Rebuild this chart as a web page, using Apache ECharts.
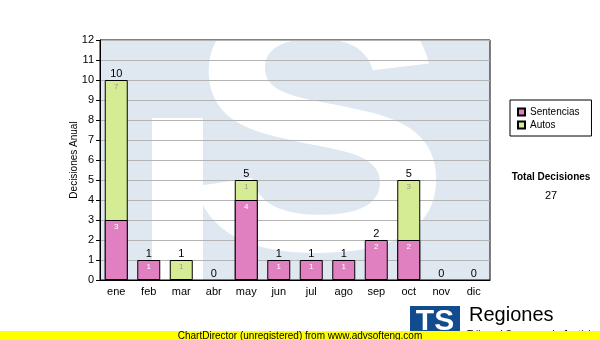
<!DOCTYPE html>
<html>
<head>
<meta charset="utf-8">
<script src="https://cdn.jsdelivr.net/npm/echarts@6/dist/echarts.min.js"></script>
<style>html,body{margin:0;padding:0;background:#fff}#c{width:600px;height:340px}</style>
</head>
<body>
<div id="c"></div>
<script>
const categories = ['ene','feb','mar','abr','may','jun','jul','ago','sep','oct','nov','dic'];
const sentencias = [3,1,0,0,4,1,1,1,2,2,0,0];
const autos = [7,0,1,0,1,0,0,0,0,3,0,0];
const yMin = 0, yMax = 12, yStep = 1;
const totals = categories.map((c,i) => sentencias[i] + autos[i]);
const grandTotal = totals.reduce((a,b) => a + b, 0);
// Autos drawn as the full stack height behind Sentencias (so shared edges are single lines)
const autosTop = categories.map((c,i) => autos[i] === 0 ? '-' : totals[i]);
const sentBars = sentencias.map(v => v === 0 ? '-' : v);

const FONT = 'Liberation Sans, Arial, sans-serif';
const chart = echarts.init(document.getElementById('c'), null, {renderer:'canvas'});

chart.setOption({
  animation:false,
  backgroundColor:'#fff',
  grid:{left:100,right:110,top:40,bottom:60,show:true,borderColor:'#000',borderWidth:1,backgroundColor:'transparent'},
  legend:{
    data:['Sentencias','Autos'], orient:'vertical', left:510, top:100,
    itemWidth:7, itemHeight:7, itemGap:3, icon:'rect',
    padding:[7,12,6,7], borderColor:'#000', borderWidth:1,
    textStyle:{fontSize:10, color:'#000', fontFamily:FONT},
    selectedMode:false
  },
  xAxis:{
    type:'category', data:categories,
    axisLine:{lineStyle:{color:'#000',width:1}},
    axisTick:{alignWithLabel:true,length:4,lineStyle:{color:'#000'}},
    axisLabel:{fontSize:11,color:'#000',margin:6,fontFamily:FONT},
    splitLine:{show:false}
  },
  yAxis:{
    type:'value', min:yMin, max:yMax, interval:yStep,
    name:'Decisiones Anual', nameLocation:'middle', nameGap:21, nameMoveOverlap:false,
    nameTextStyle:{fontSize:10,color:'#000',fontFamily:FONT},
    axisLine:{show:true,lineStyle:{color:'#000',width:1}},
    axisTick:{show:true,length:4,lineStyle:{color:'#000'}},
    axisLabel:{fontSize:11,color:'#000',margin:6,fontFamily:FONT},
    splitLine:{show:true,lineStyle:{color:'#b4b4b4',width:1}}
  },
  series:[
    {name:'Autos',type:'bar',barWidth:23,barGap:'-100%',data:autosTop,
     itemStyle:{color:'#d6ec94',borderColor:'#000',borderWidth:1},
     label:{show:true,position:'insideTop',distance:3,fontSize:8,color:'#999',fontFamily:FONT,
       formatter:p => String(autos[p.dataIndex])}},
    {name:'Sentencias',type:'bar',barWidth:23,barGap:'-100%',data:sentBars,
     itemStyle:{color:'#e080c0',borderColor:'#000',borderWidth:1},
     label:{show:true,position:'insideTop',distance:3,fontSize:8,color:'#fff',fontFamily:FONT,
       formatter:p => String(sentencias[p.dataIndex])}},
    {name:'Total',type:'bar',barWidth:23,barGap:'-100%',data:totals,
     itemStyle:{color:'transparent',borderWidth:0},
     label:{show:true,position:'top',distance:1,fontSize:11,color:'#000',fontFamily:FONT,
       formatter:p => String(totals[p.dataIndex])}}
  ],
  graphic:[
    {type:'rect',z:-10,shape:{x:100,y:40,width:390,height:240},style:{fill:'#dfe8f1'}},
    {type:'rect',z:-9,shape:{x:152,y:118,width:51,height:170},style:{fill:'#fff'}},
    {type:'text',z:-9,x:318,y:152,scaleX:1.18,scaleY:1.04,
     style:{text:'S',font:'bold 340px "Liberation Sans", Arial, sans-serif',fill:'#fff',align:'center',verticalAlign:'middle'}},
    {type:'text',z:5,x:551,y:177,style:{text:'Total Decisiones',font:'bold 10px "Liberation Sans", Arial, sans-serif',fill:'#000',align:'center',verticalAlign:'middle'}},
    {type:'text',z:5,x:551,y:196,style:{text:String(grandTotal),font:'11px "Liberation Sans", Arial, sans-serif',fill:'#000',align:'center',verticalAlign:'middle'}},
    {type:'rect',z:5,shape:{x:410,y:306,width:50,height:34},style:{fill:'#124c8e'}},
    {type:'text',z:6,x:435,y:322,style:{text:'TS',font:'bold 30px "Liberation Sans", Arial, sans-serif',fill:'#fff',align:'center',verticalAlign:'middle'}},
    {type:'text',z:5,x:469,y:315,style:{text:'Regiones',font:'20px "Liberation Sans", Arial, sans-serif',fill:'#000',align:'left',verticalAlign:'middle'}},
    {type:'text',z:5,x:467,y:335,style:{text:'Tribunal Supremo de Justicia',font:'10px "Liberation Sans", Arial, sans-serif',fill:'#000',align:'left',verticalAlign:'middle'}},
    {type:'rect',z:8,shape:{x:0,y:331,width:600,height:9},style:{fill:'#ffff00'}},
    {type:'text',z:9,x:300,y:336,style:{text:'ChartDirector (unregistered) from www.advsofteng.com',font:'10px "Liberation Sans", Arial, sans-serif',fill:'#000',align:'center',verticalAlign:'middle'}}
  ]
});
</script>
</body>
</html>
